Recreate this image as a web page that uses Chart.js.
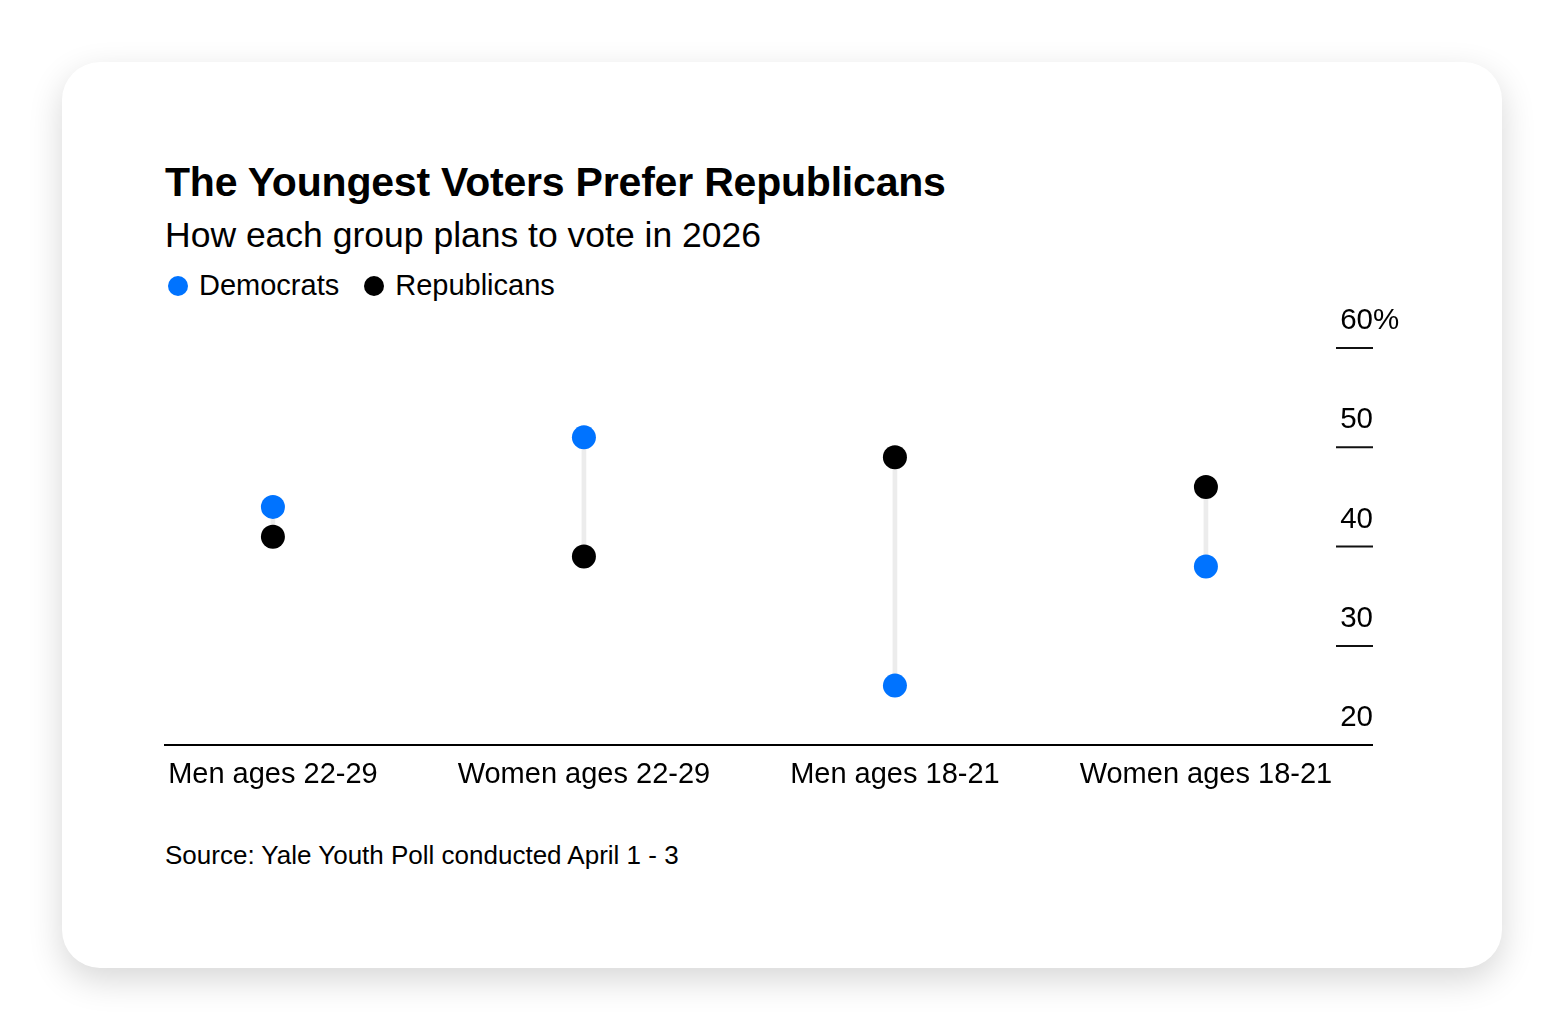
<!DOCTYPE html>
<html>
<head>
<meta charset="utf-8">
<script src="https://cdn.jsdelivr.net/npm/chart.js@4.4.1/dist/chart.umd.min.js"></script>
<style>
  html, body { margin: 0; padding: 0; background: #fff; width: 1564px; height: 1031px; overflow: hidden; }
  body { font-family: 'Liberation Sans', Arial, sans-serif; color: #000; position: relative; }
  .card { position: absolute; left: 62px; top: 62px; width: 1440px; height: 906px; border-radius: 38px;
    background: #fff; box-shadow: 0 12px 34px rgba(0,0,0,.16); }
  .title { position: absolute; left: 165px; top: 159px; font-weight: 700; font-size: 41px; letter-spacing: -0.2px; white-space: nowrap; }
  .sub { position: absolute; left: 165px; top: 215px; font-size: 35.5px; white-space: nowrap; }
  .legend { position: absolute; left: 168px; top: 269px; font-size: 29px; display: flex; gap: 25px; white-space: nowrap; }
  .legend span { display: inline-flex; align-items: center; }
  .legend i { width: 20px; height: 20px; border-radius: 50%; display: inline-block; margin-right: 11px; }
  .source { position: absolute; left: 165px; top: 840px; font-size: 26px; white-space: nowrap; }
  .wrap { position: absolute; left: 0; top: 300px; width: 1564px; height: 540px; }
</style>
</head>
<body>
<div class="card"></div>
<div class="title">The Youngest Voters Prefer Republicans</div>
<div class="sub">How each group plans to vote in 2026</div>
<div class="legend" id="legend"></div>
<div class="wrap"><canvas id="c"></canvas></div>
<div class="source">Source: Yale Youth Poll conducted April 1 - 3</div>
<script>
// Datos (% que planea votar por cada partido)
const groups = ['Men ages 22-29', 'Women ages 22-29', 'Men ages 18-21', 'Women ages 18-21'];
const democrats = [44, 51, 26, 38];
const republicans = [41, 39, 49, 46];
const seriesNames = ['Democrats', 'Republicans'];
const seriesColors = ['#0073FF', '#000000'];
const yTicks = [20, 30, 40, 50, 60];

// Leyenda
document.getElementById('legend').innerHTML = seriesNames
  .map((n, i) => `<span><i style="background:${seriesColors[i]}"></i>${n}</span>`).join('');

const FONT = "'Liberation Sans', Arial, sans-serif";

// Etiquetas del eje y a la derecha, con rayita debajo
const yLabels = {
  id: 'yLabels',
  afterDraw(chart) {
    const { ctx, scales: { y }, chartArea } = chart;
    const right = chartArea.right + 1, left = chartArea.right - 36;
    ctx.save();
    ctx.font = `29.5px ${FONT}`;
    ctx.fillStyle = '#000';
    ctx.textBaseline = 'middle';
    yTicks.forEach((v) => {
      const py = y.getPixelForValue(v);
      ctx.textAlign = 'right';
      ctx.fillText(String(v), right, py - 27);
      if (v === yTicks[yTicks.length - 1]) {
        ctx.textAlign = 'left';
        ctx.fillText('%', right, py - 27);
      }
      if (v !== yTicks[0]) {
        ctx.strokeStyle = '#111';
        ctx.lineWidth = 2;
        ctx.beginPath();
        ctx.moveTo(left, py);
        ctx.lineTo(right, py);
        ctx.stroke();
      }
    });
    ctx.restore();
  },
};

new Chart(document.getElementById('c'), {
  type: 'scatter',
  data: {
    datasets: [
      {
        type: 'bar', label: 'gap', order: 3,
        data: groups.map((g, i) => ({ x: i, y: [democrats[i], republicans[i]] })),
        backgroundColor: '#ececec', barThickness: 4, borderWidth: 0,
      },
      {
        label: seriesNames[0], order: 1,
        data: groups.map((g, i) => ({ x: i, y: democrats[i] })),
        backgroundColor: seriesColors[0], borderWidth: 0, pointRadius: 12, pointHoverRadius: 12,
      },
      {
        label: seriesNames[1], order: 1,
        data: groups.map((g, i) => ({ x: i, y: republicans[i] })),
        backgroundColor: seriesColors[1], borderWidth: 0, pointRadius: 12, pointHoverRadius: 12,
      },
    ],
  },
  options: {
    responsive: true, maintainAspectRatio: false, animation: false,
    layout: { padding: { left: 165, right: 192, top: 48, bottom: 36 } },
    plugins: { legend: { display: false }, tooltip: { enabled: false } },
    scales: {
      x: {
        type: 'linear', min: -0.347, max: 3.534, offset: false,
        afterBuildTicks: (axis) => { axis.ticks = groups.map((g, i) => ({ value: i })); },
        ticks: { callback: (v) => groups[v] || '', color: '#000', font: { family: FONT, size: 29 }, padding: 12, maxRotation: 0, autoSkip: false },
        grid: { display: false, drawTicks: false },
        border: { display: true, color: '#000', width: 2 },
      },
      y: { display: false, min: 20, max: 60 },
    },
  },
  plugins: [yLabels],
});
</script>
</body>
</html>
